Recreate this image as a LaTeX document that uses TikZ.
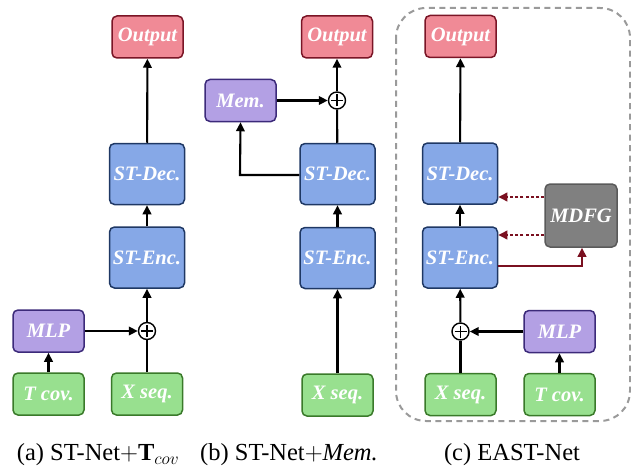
\documentclass[tikz,border=0pt]{standalone}
\usepackage{fontspec}
\setmainfont{Liberation Serif}
\usetikzlibrary{arrows.meta,calc}
\definecolor{outfill}{HTML}{F08A96}
\definecolor{outdraw}{HTML}{7A1526}
\definecolor{stfill}{HTML}{86A8E7}
\definecolor{stdraw}{HTML}{1F3864}
\definecolor{pufill}{HTML}{B3A0E4}
\definecolor{pudraw}{HTML}{3C2A7A}
\definecolor{grfill}{HTML}{98E08F}
\definecolor{grdraw}{HTML}{3A7A2A}
\definecolor{gyfill}{HTML}{808080}
\definecolor{gydraw}{HTML}{5A5A5A}
\definecolor{darkred}{HTML}{7A1020}
\definecolor{framegray}{HTML}{9A9A9A}
\tikzset{
  box/.style={rounded corners=5pt, line width=1.5pt, text=white,
    font=\fontsize{20.5}{20.5}\selectfont\bfseries\itshape, inner sep=0pt,
    minimum width=71pt, minimum height=42pt},
  outbox/.style={box, fill=outfill, draw=outdraw},
  stbox/.style={box, fill=stfill, draw=stdraw, minimum width=75pt, minimum height=61pt},
  pubox/.style={box, fill=pufill, draw=pudraw},
  grbox/.style={box, fill=grfill, draw=grdraw},
  gybox/.style={box, fill=gyfill, draw=gydraw, minimum width=72pt, minimum height=63pt},
  plusnode/.style={circle, draw=black, line width=1.4pt, fill=white, minimum size=17pt, inner sep=0pt,
    path picture={\draw[line width=1.4pt] ([xshift=-6pt]path picture bounding box.center) -- ([xshift=6pt]path picture bounding box.center)
      ([yshift=-6pt]path picture bounding box.center) -- ([yshift=6pt]path picture bounding box.center);}},
  conn/.style={line width=2.1pt, draw=black},
  arr/.style={conn, -{Triangle[length=9pt,width=8.5pt]}},
  redarr/.style={line width=1.9pt, draw=darkred, -{Triangle[length=9pt,width=8.5pt]}},
  reddot/.style={redarr, dash pattern=on 3pt off 2.2pt},
  caption/.style={font=\fontsize{24.5}{24.5}\selectfont, inner sep=0pt}
}
\begin{document}
\begin{tikzpicture}[x=1pt,y=-1pt]
\useasboundingbox (0,0) rectangle (631,468);
% frame of (c)
\draw[framegray, line width=2pt, dash pattern=on 6pt off 4.5pt, rounded corners=30pt] (396,8) rectangle (630,421);

% ---------- (a)
\node[outbox] (outA) at (147.5,37) {Output};
\node[stbox] (decA) at (147,174) {ST-Dec.};
\node[stbox] (encA) at (147,257.5) {ST-Enc.};
\node[plusnode] (plusA) at (147,331) {};
\node[pubox] (mlpA) at (48.5,331) {MLP};
\node[grbox] (tcovA) at (48.5,394) {T cov.};
\node[grbox] (xseqA) at (147,394) {X seq.};
\draw[arr] (tcovA) -- (mlpA);
\draw[arr] (mlpA) -- (plusA);
\draw[conn] (xseqA) -- (plusA);
\draw[arr] (plusA) -- (encA);
\draw[arr] (encA) -- (decA);
\draw[arr] (decA) -- (outA);
\node[caption] (capA) at (98,455) {(a) ST-Net$+\mathbf{T}_{cov}$};

% ---------- (b)
\node[outbox] (outB) at (337,37) {Output};
\node[pubox] (memB) at (240.5,100.5) {Mem.};
\node[plusnode] (plusB) at (337,100.5) {};
\node[stbox] (decB) at (337.5,174) {ST-Dec.};
\node[stbox] (encB) at (337.5,258) {ST-Enc.};
\node[grbox] (xseqB) at (337.5,395) {X seq.};
\coordinate (memTurn) at (240,175);
\draw[arr] (xseqB) -- (encB);
\draw[arr] (encB) -- (decB);
\draw[conn] (decB) -- (plusB);
\draw[arr] (plusB) -- (outB);
\draw[arr] (memB) -- (plusB);
\draw[arr] (decB.west |- memTurn) -- (memTurn) -- (memB.south);
\node[caption] (capB) at (289,455) {(b) ST-Net$+$\textit{Mem.}};

% ---------- (c)
\node[outbox] (outC) at (460.5,36.5) {Output};
\node[stbox] (decC) at (460,173.5) {ST-Dec.};
\node[stbox] (encC) at (460,257.5) {ST-Enc.};
\node[gybox] (mdfg) at (581,215.5) {MDFG};
\node[plusnode] (plusC) at (460.5,331.5) {};
\node[pubox] (mlpC) at (559.5,331.5) {MLP};
\node[grbox] (xseqC) at (460.5,394.5) {X seq.};
\node[grbox] (tcovC) at (559.5,394.5) {T cov.};
\coordinate (dotA) at (545,197);
\coordinate (dotB) at (545,235);
\coordinate (encOut) at (498,266);
\coordinate (redTurn) at (582,266);
\draw[arr] (tcovC) -- (mlpC);
\draw[arr] (mlpC) -- (plusC);
\draw[conn] (xseqC) -- (plusC);
\draw[arr] (plusC) -- (encC);
\draw[arr] (encC) -- (decC);
\draw[arr] (decC) -- (outC);
\draw[reddot] (mdfg.west |- dotA) -- (decC.east |- dotA);
\draw[reddot] (mdfg.west |- dotB) -- (encC.east |- dotB);
\draw[redarr] (encC.east |- encOut) -- (redTurn) -- (mdfg.south -| redTurn);
\node[caption] (capC) at (512,455) {(c) EAST-Net};
\end{tikzpicture}
\end{document}
